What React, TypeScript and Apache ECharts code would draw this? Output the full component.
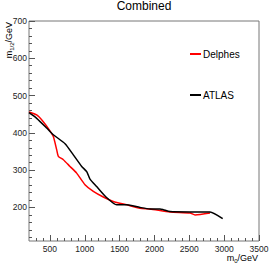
import React, { useEffect, useRef } from "react";
import * as echarts from "echarts";

const delphesX = [200, 310, 405, 491, 549, 597, 621, 693, 788, 884, 1003, 1123, 1266, 1410, 1602, 1793, 1936, 2223, 2510, 2582, 2797];
const delphesY = [456, 448, 430, 408, 390, 355, 337, 328, 310, 292, 261, 243, 228, 216, 207, 198, 196, 188, 185, 180, 185];
const atlasX = [200, 310, 454, 549, 717, 836, 956, 1028, 1075, 1171, 1305, 1458, 1602, 1793, 1936, 2080, 2127, 2223, 2510, 2797, 2979];
const atlasY = [454, 439, 413, 395, 371, 341, 310, 296, 276, 256, 228, 207, 207, 200, 196, 196, 194, 189, 188, 188, 170];
const xMajor = [500, 1000, 1500, 2000, 2500, 3000, 3500];
const yMajor = [200, 300, 400, 500, 600, 700];

const X_MIN = 200, X_MAX = 3500, Y_MIN = 110, Y_MAX = 700;

export default function App() {
  const ref = useRef<HTMLDivElement>(null);
  useEffect(() => {
    const chart = echarts.init(ref.current!, null, { renderer: "svg" });
    const xMinor: number[] = [];
    for (let v = 300; v <= 3400; v += 100) xMinor.push(v);
    const yMinor: number[] = [];
    for (let v = 120; v <= 700; v += 20) yMinor.push(v);
    const font = "Liberation Sans, Arial, sans-serif";
    const labelStyle = { fontFamily: font, fontSize: 8.5, color: "#222", formatter: (v: number) => String(v) };
    chart.setOption({
      animation: false,
      grid: { left: 29, right: 20, top: 21, bottom: 28, show: true, borderColor: "#777", borderWidth: 1, backgroundColor: "transparent" },
      legend: {
        orient: "vertical",
        left: 185,
        top: 44,
        itemWidth: 11,
        itemHeight: 2,
        itemGap: 31,
        icon: "rect",
        textStyle: { fontFamily: font, fontSize: 10, color: "#000", padding: [0, 0, 0, -3] },
        data: ["Delphes", "ATLAS"],
      },
      xAxis: [
        {
          type: "value", min: X_MIN, max: X_MAX,
          axisLine: { show: false }, splitLine: { show: false },
          axisTick: { show: true, inside: true, length: 6, customValues: xMajor, lineStyle: { color: "#555" } },
          axisLabel: { ...labelStyle, margin: 3, customValues: xMajor },
        },
        {
          type: "value", min: X_MIN, max: X_MAX, position: "bottom",
          axisLine: { show: false }, splitLine: { show: false },
          axisTick: { show: true, inside: true, length: 3, customValues: xMinor, lineStyle: { color: "#555" } },
          axisLabel: { show: false },
        },
      ],
      yAxis: [
        {
          type: "value", min: Y_MIN, max: Y_MAX,
          axisLine: { show: false }, splitLine: { show: false },
          axisTick: { show: true, inside: true, length: 6, customValues: yMajor, lineStyle: { color: "#555" } },
          axisLabel: { ...labelStyle, margin: 2, customValues: yMajor },
        },
        {
          type: "value", min: Y_MIN, max: Y_MAX, position: "left",
          axisLine: { show: false }, splitLine: { show: false },
          axisTick: { show: true, inside: true, length: 3, customValues: yMinor, lineStyle: { color: "#555" } },
          axisLabel: { show: false },
        },
      ],
      series: [
        {
          name: "Delphes", type: "line", showSymbol: false, smooth: 0.2,
          lineStyle: { color: "#ff0000", width: 1.5 }, itemStyle: { color: "#ff0000" },
          data: delphesX.map((x, i) => [x, delphesY[i]]),
        },
        {
          name: "ATLAS", type: "line", showSymbol: false, smooth: 0.2,
          lineStyle: { color: "#000000", width: 1.5 }, itemStyle: { color: "#000000" },
          data: atlasX.map((x, i) => [x, atlasY[i]]),
        },
      ],
      graphic: [
        {
          type: "text", x: 144, y: 6,
          style: { text: "Combined", fontFamily: font, fontSize: 12, fill: "#000", align: "center", verticalAlign: "middle" },
        },
        {
          type: "text", x: 9, y: 22, rotation: Math.PI / 2,
          style: {
            text: "{a|m}{s|1/2}{a|/GeV}",
            align: "right", verticalAlign: "middle",
            rich: {
              a: { fontFamily: font, fontSize: 9, fill: "#000" },
              s: { fontFamily: font, fontSize: 6, fill: "#000", padding: [5, 0, 0, 0] },
            },
          },
        },
        {
          type: "text", x: 258, y: 258,
          style: {
            text: "{a|m}{s|0}{a|/GeV}",
            align: "right", verticalAlign: "middle",
            rich: {
              a: { fontFamily: font, fontSize: 9, fill: "#000" },
              s: { fontFamily: font, fontSize: 6, fill: "#000", padding: [5, 0, 0, 0] },
            },
          },
        },
      ],
    });
    return () => chart.dispose();
  }, []);
  return <div ref={ref} style={{ width: 279, height: 269, position: "absolute", left: 0, top: 0 }} />;
}
